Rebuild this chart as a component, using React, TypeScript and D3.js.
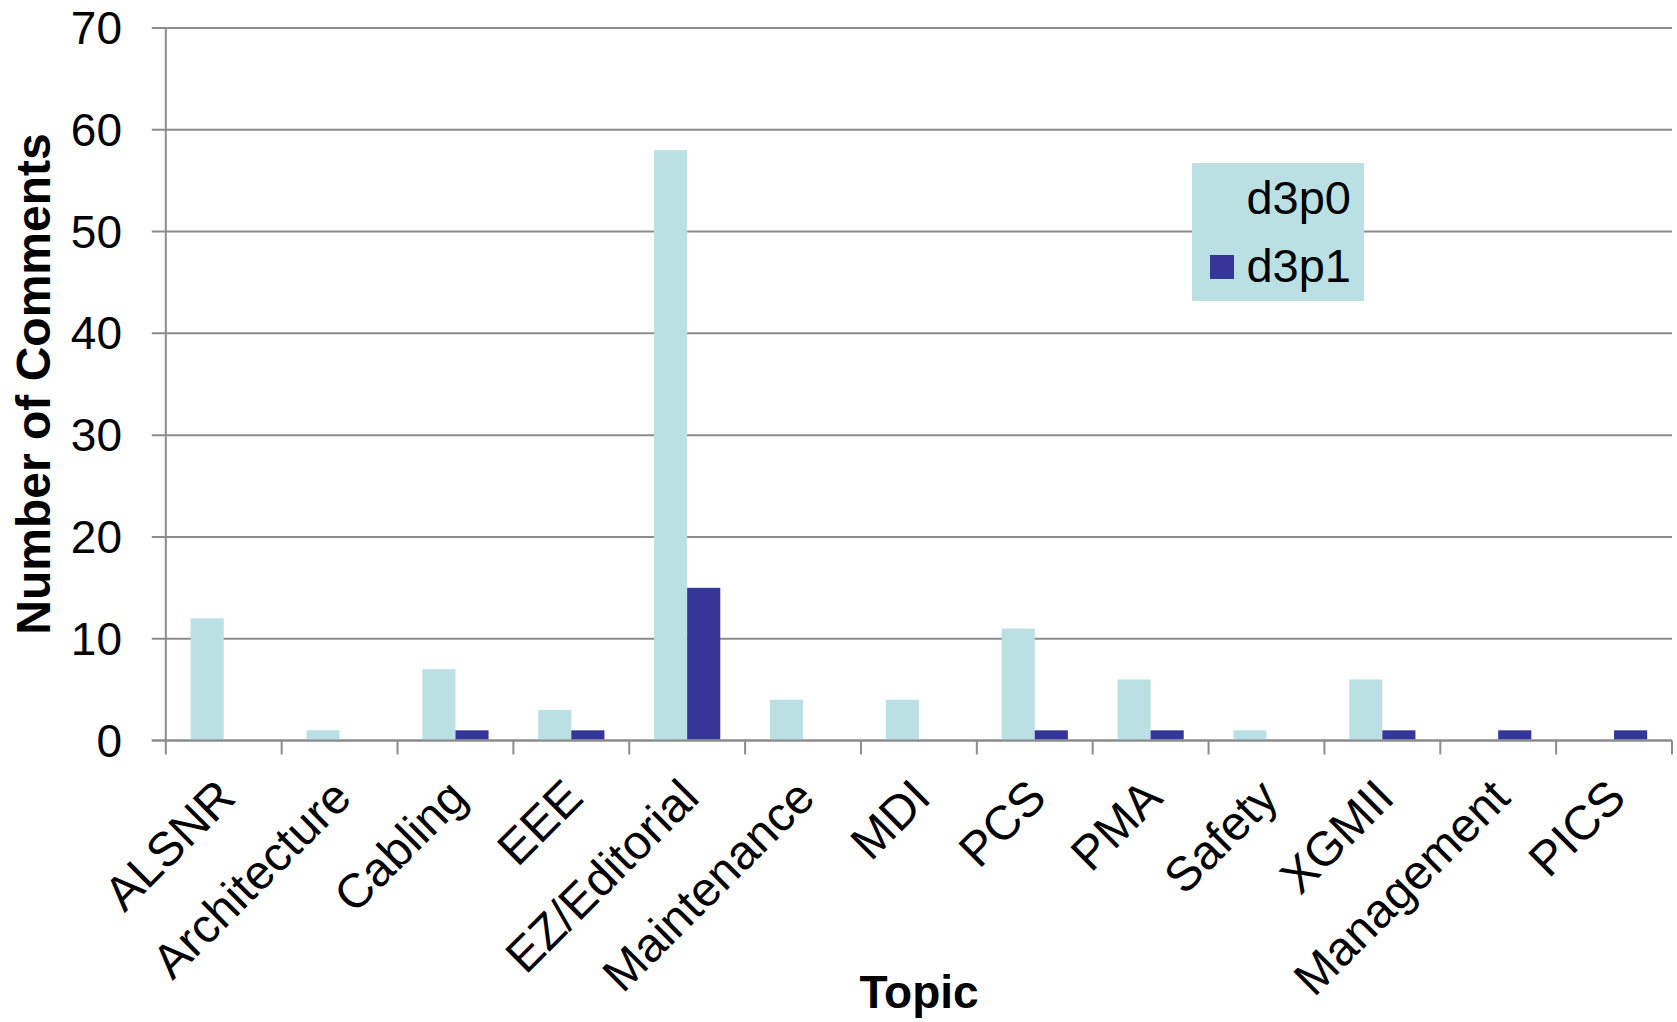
import React, { useEffect } from "react";
import * as d3 from "d3";

const categories = ["ALSNR", "Architecture", "Cabling", "EEE", "EZ/Editorial", "Maintenance", "MDI", "PCS", "PMA", "Safety", "XGMII", "Management", "PICS"];
const seriesNames = ["d3p0", "d3p1"];
const d3p0 = [12, 1, 7, 3, 58, 4, 4, 11, 6, 1, 6, 0, 0];
const d3p1 = [0, 0, 1, 1, 15, 0, 0, 1, 1, 0, 1, 1, 1];
const yTicks = [0, 10, 20, 30, 40, 50, 60, 70];
const colors = ["#BBE0E3", "#35359A"];

const W = 1677, H = 1022;
const M = { left: 165.8, right: 1672, top: 28, bottom: 740.5 };
const FONT = "'Liberation Sans', Arial, Helvetica, sans-serif";
const GRID = "#8C8C8C";

export default function App() {
  useEffect(() => { document.body.style.margin = "0"; }, []);
  const x = d3.scaleBand<string>().domain(categories).range([M.left, M.right]).padding(0);
  const xs = d3.scaleBand<string>().domain(seriesNames).range([0, x.bandwidth()]).paddingInner(0).paddingOuter(0.75);
  const y = d3.scaleLinear().domain([0, 70]).range([M.bottom, M.top]);
  const data = [d3p0, d3p1];
  const boundaries = categories.map((c) => x(c)!).concat([M.right]);

  return (
    <svg width={W} height={H} style={{ display: "block", background: "#fff" }} fontFamily={FONT}>
      {yTicks.map((t) => (
        <g key={t}>
          <line x1={M.left - 14} x2={M.right} y1={y(t)} y2={y(t)} stroke={GRID} strokeWidth={2} />
          <text x={122} y={y(t) + 16} fontSize={46} textAnchor="end" fill="#000">{t}</text>
        </g>
      ))}
      <line x1={M.left} x2={M.left} y1={M.top} y2={M.bottom} stroke={GRID} strokeWidth={2} />
      {boundaries.map((b, i) => (
        <line key={i} x1={b} x2={b} y1={M.bottom} y2={M.bottom + 14} stroke={GRID} strokeWidth={2} />
      ))}
      {data.map((vals, si) =>
        vals.map((v, ci) =>
          v > 0 ? (
            <rect key={si + "-" + ci} x={x(categories[ci])! + xs(seriesNames[si])!} width={xs.bandwidth()}
              y={y(v)} height={y(0) - y(v) - 1} fill={colors[si]} />
          ) : null
        )
      )}
      <line x1={M.left - 14} x2={M.right} y1={y(0)} y2={y(0)} stroke={GRID} strokeWidth={2} />
      {categories.map((c) => {
        const ax = x(c)! + x.bandwidth() / 2 + 14;
        const ay = 800;
        return (
          <text key={c} x={ax} y={ay} fontSize={48} textAnchor="end" transform={`rotate(-45 ${ax} ${ay})`} fill="#000">{c}</text>
        );
      })}
      <text x={919} y={1008} fontSize={46} fontWeight="bold" textAnchor="middle" fill="#000">Topic</text>
      <text transform={`translate(50 384) rotate(-90)`} fontSize={48} fontWeight="bold" textAnchor="middle" fill="#000">Number of Comments</text>
      <g>
        <rect x={1192} y={163} width={172} height={138} fill="#BBE0E3" />
        <rect x={1210} y={188} width={24} height={24} fill={colors[0]} />
        <text x={1351} y={214} fontSize={47} textAnchor="end" fill="#000">{seriesNames[0]}</text>
        <rect x={1210} y={255} width={24} height={24} fill={colors[1]} />
        <text x={1351} y={282} fontSize={47} textAnchor="end" fill="#000">{seriesNames[1]}</text>
      </g>
    </svg>
  );
}
